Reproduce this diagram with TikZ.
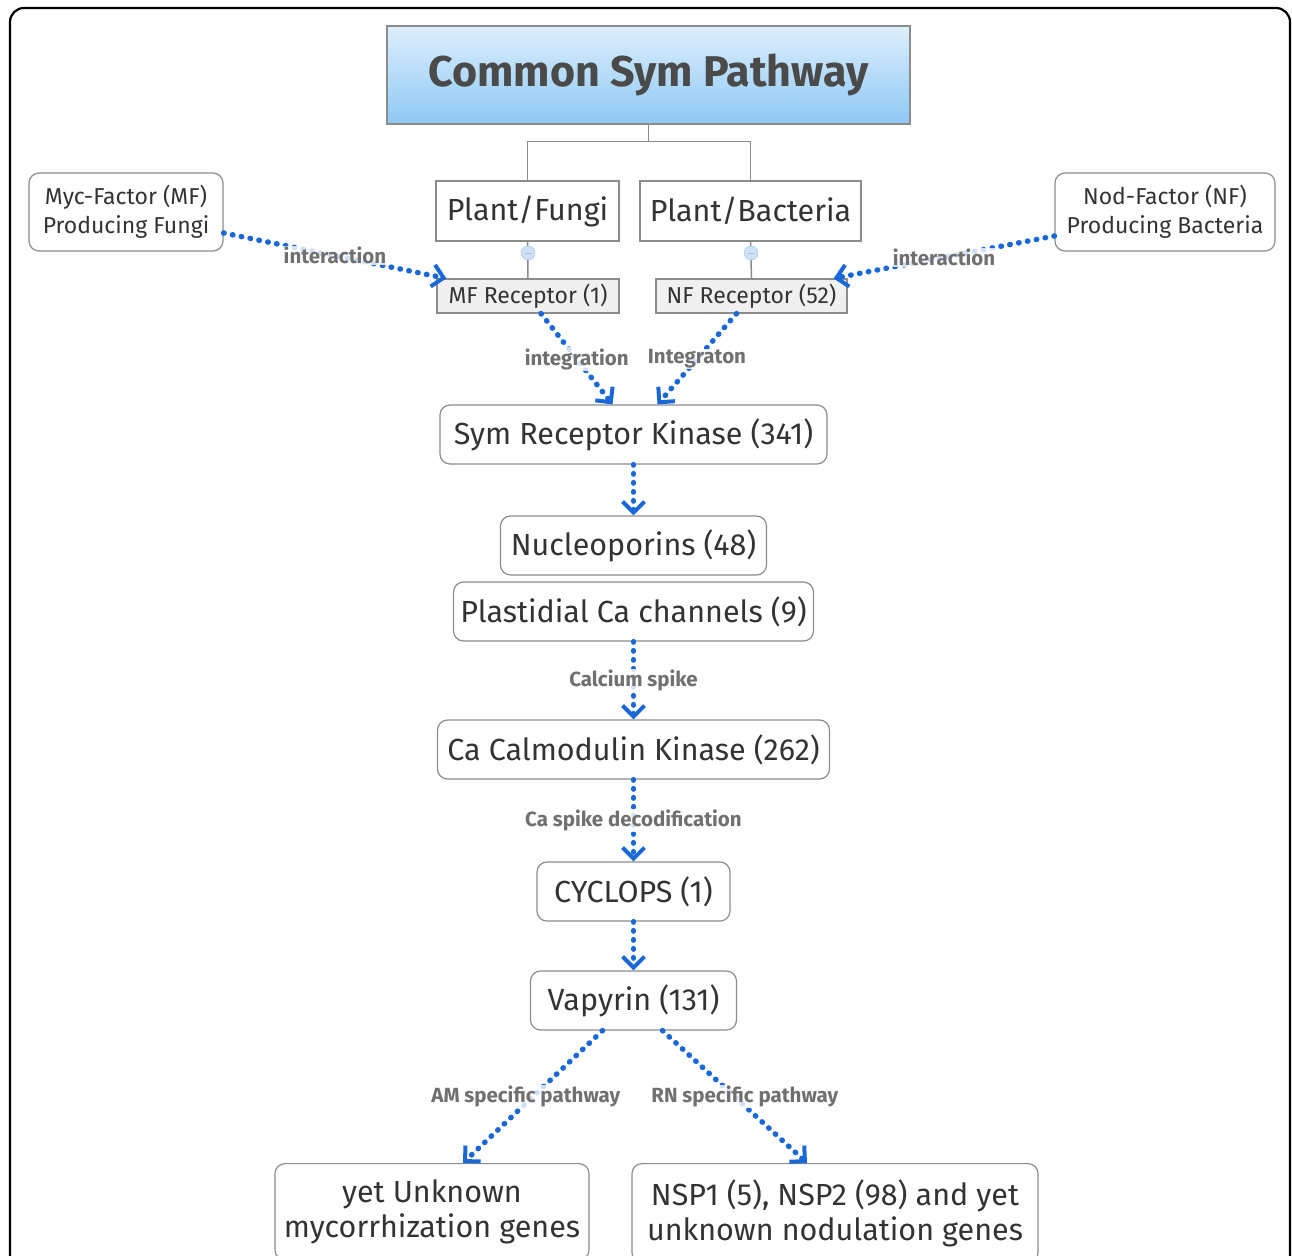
\documentclass[tikz,border=0pt]{standalone}
\usepackage{fontspec}
\setmainfont{Fira Sans}
\usetikzlibrary{positioning,arrows.meta}
\definecolor{azul}{HTML}{1A68D8}
\definecolor{borda}{HTML}{8C8C8C}
\definecolor{texto}{HTML}{333333}
\definecolor{cinza}{HTML}{F0F0F0}
\definecolor{celestea}{HTML}{DDEFFD}
\definecolor{celesteb}{HTML}{8DC8F3}
\definecolor{titulo}{HTML}{4A4A4A}
\definecolor{rotulo}{HTML}{707070}
\definecolor{menosf}{HTML}{CFE1F6}
\definecolor{menosd}{HTML}{9FC0EA}
\begin{document}
\begin{tikzpicture}[x=1pt,y=-1pt]
\tikzset{cel/.style={draw=borda,line width=1.2pt,text=texto,font=\fontsize{30.5}{35}\selectfont,inner xsep=6pt,minimum height=59pt},
gen/.style={cel,rounded corners=10pt},
pl/.style={cel,minimum height=60pt},
rec/.style={cel,fill=cinza,font=\fontsize{23}{25}\selectfont,inner xsep=5pt,minimum height=34pt},
fac/.style={gen,font=\fontsize{23}{29}\selectfont,align=center,minimum height=78pt},
fim/.style={gen,align=center,anchor=north,inner ysep=16pt},
lab/.style={font=\bfseries\fontsize{20.5}{24}\selectfont,text=rotulo,fill=white,fill opacity=0.8,text opacity=1,inner sep=1pt},
flow/.style={draw=azul,line width=5.5pt,line cap=round,dash pattern=on 0.5pt off 8.5pt,-{Straight Barb[length=11pt,width=22pt,line width=4pt]}},
tree/.style={draw=borda,line width=1.5pt},
menos/.style={circle,draw=menosd,fill=menosf,minimum size=14pt,inner sep=0pt},
}
\useasboundingbox (0,0) rectangle (1292,1255);

% moldura
\draw[line width=2.2pt,rounded corners=14pt] (10,1275) -- (10,8) -- (1290,8) -- (1290,1275);

\node[draw=borda,line width=1.2pt,top color=celestea,bottom color=celesteb,minimum width=523pt,minimum height=98pt,font=\bfseries\fontsize{43}{50}\selectfont,text=titulo] (title) at (648.5,75) {Common Sym Pathway};

\node[pl,minimum width=183pt] (plantf) at (527.5,211) {Plant/Fungi};
\node[pl,minimum width=221pt] (plantb) at (750.5,211) {Plant/Bacteria};
\node[rec,minimum width=182pt] (mfrec) at (528,296) {MF Receptor (1)};
\node[rec,minimum width=191pt] (nfrec) at (751.5,296) {NF Receptor (52)};
\node[fac,minimum width=194pt] (myc) at (126,212) {Myc-Factor (MF)\\Producing Fungi};
\node[fac,minimum width=220pt] (nod) at (1165,212) {Nod-Factor (NF)\\Producing Bacteria};

\draw[tree] (title.south) -- ++(0,17) -| (plantf.north);
\draw[tree] (title.south) -- ++(0,17) -| (plantb.north);
\draw[tree] (plantf.south) -- (mfrec.north);
\draw[tree] (plantb.south) -- (nfrec.north);
\node[menos] (cf) at (528,253) {};
\node[menos] (cb) at (751,253) {};
\draw[menosd,line width=1pt] ([xshift=-3.5pt]cf.center) -- ([xshift=3.5pt]cf.center);
\draw[menosd,line width=1pt] ([xshift=-3.5pt]cb.center) -- ([xshift=3.5pt]cb.center);

% coluna central
\node[gen,minimum width=387pt] (symrk) at (633.5,434.5) {Sym Receptor Kinase (341)};
\node[gen,minimum width=266pt] (nucleo) [below of=symrk,node distance=111pt] {Nucleoporins (48)};
\node[gen,minimum width=360pt] (plast) [below of=nucleo,node distance=66pt] {Plastidial Ca channels (9)};
\node[gen,minimum width=392pt] (ccamk) [below of=plast,node distance=138pt] {Ca Calmodulin Kinase (262)};
\node[gen,minimum width=193pt] (cyclops) [below of=ccamk,node distance=142pt] {CYCLOPS (1)};
\node[gen,minimum width=206pt] (vapyrin) [below of=cyclops,node distance=109pt] {Vapyrin (131)};

\node[fim,minimum width=314pt] (yetunk) at (432,1163) {yet Unknown\\mycorrhization genes};
\node[fim,minimum width=406pt] (nsp) at (835,1163) {NSP1 (5), NSP2 (98) and yet\\unknown nodulation genes};

\path[flow] ([yshift=-21pt]myc.east) -- node[lab] {interaction} ([xshift=10pt]mfrec.north west);
\path[flow] ([yshift=-24pt]nod.west) -- node[lab] {interaction} ([xshift=-14pt]nfrec.north east);
\path[flow] ([xshift=13pt]mfrec.south) -- node[lab] {integration} ([xshift=-21pt]symrk.north);
\path[flow] ([xshift=-15pt]nfrec.south) -- node[lab] {Integraton} ([xshift=24pt]symrk.north);
\path[flow] (symrk.south) -- (nucleo.north);
\path[flow] (plast.south) -- node[lab] {Calcium spike} (ccamk.north);
\path[flow] (ccamk.south) -- node[lab] {Ca spike decodification} (cyclops.north);
\path[flow] (cyclops.south) -- (vapyrin.north);
\path[flow] ([xshift=-31pt]vapyrin.south) -- node[lab,xshift=-7pt] {AM specific pathway} ([xshift=31pt]yetunk.north);
\path[flow] ([xshift=29pt]vapyrin.south) -- node[lab,xshift=10pt] {RN specific pathway} ([xshift=-28pt]nsp.north);

\end{tikzpicture}
\end{document}
